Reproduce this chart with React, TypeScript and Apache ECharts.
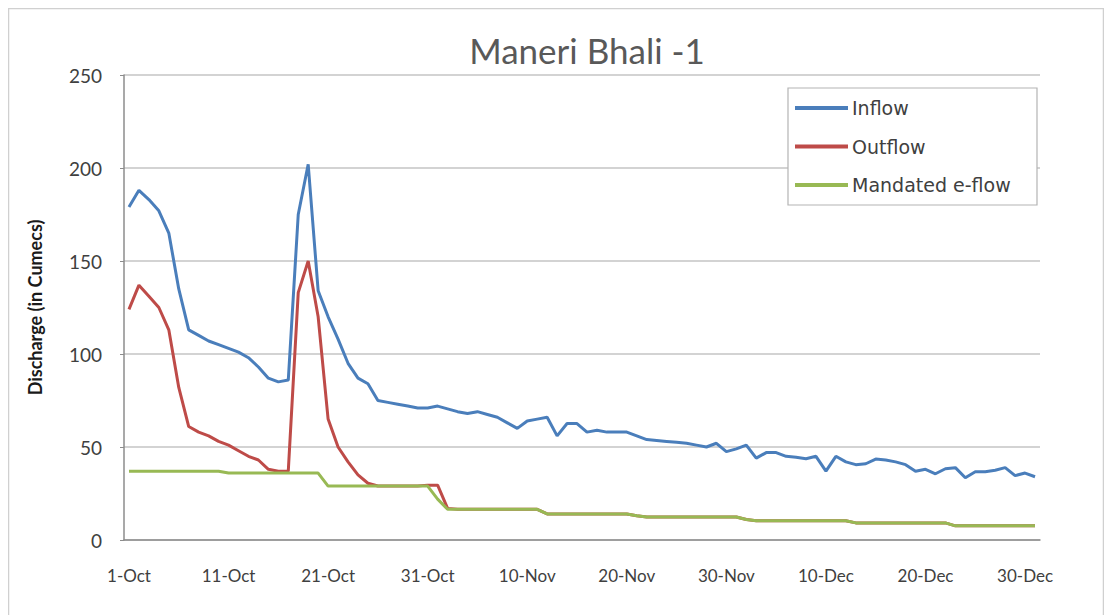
import React, { useEffect, useRef } from "react";
import * as echarts from "echarts";

const monthDays: [string, number][] = [["Oct", 31], ["Nov", 30], ["Dec", 31]];
const categories: string[] = [];
for (const [m, n] of monthDays) for (let d = 1; d <= n; d++) categories.push(`${d}-${m}`);

const inflow = [
  179, 188, 183, 177, 165, 135, 113, 110, 107, 105,
  103, 101, 98, 93, 87, 85, 86, 175, 202, 134,
  120, 108, 95, 87, 84, 75, 74, 73, 72, 71,
  71, 72, 70.5, 69, 68, 69, 67.5, 66, 63, 60,
  64, 65, 66, 56, 62.6, 62.6, 58, 59, 58, 58,
  58, 56, 54, 53.5, 53, 52.5, 52, 51, 50, 52,
  47.5, 49, 51, 44, 47, 47, 45, 44.5, 43.7, 45,
  37, 45, 42, 40.5, 41, 43.5, 43, 42, 40.5, 37,
  38, 35.6, 38.3, 38.9, 33.5, 36.7, 36.7, 37.5, 38.9, 34.6,
  36, 34,
];

const outflow = [
  124, 137, 131, 125, 113, 82, 61, 58, 56, 53,
  51, 48, 45, 43, 38, 37, 37, 133, 150, 120,
  65, 50, 42, 35, 30.5, 29, 29, 29, 29, 29,
  29.5, 29.5, 17, 16.5, 16.5, 16.5, 16.5, 16.5, 16.5, 16.5,
  16.5, 16.5, 14, 14, 14, 14, 14, 14, 14, 14,
  14, 13, 12.4, 12.4, 12.4, 12.4, 12.4, 12.4, 12.4, 12.4,
  12.4, 12.4, 11, 10.3, 10.3, 10.3, 10.3, 10.3, 10.3, 10.3,
  10.3, 10.3, 10.3, 9.2, 9.2, 9.2, 9.2, 9.2, 9.2, 9.2,
  9.2, 9.2, 9.2, 7.6, 7.6, 7.6, 7.6, 7.6, 7.6, 7.6,
  7.6, 7.6,
];

const eflow = [
  37, 37, 37, 37, 37, 37, 37, 37, 37, 37,
  36, 36, 36, 36, 36, 36, 36, 36, 36, 36,
  29, 29, 29, 29, 29, 29, 29, 29, 29, 29,
  29, 22, 16.5, 16.5, 16.5, 16.5, 16.5, 16.5, 16.5, 16.5,
  16.5, 16.5, 14, 14, 14, 14, 14, 14, 14, 14,
  14, 13, 12.4, 12.4, 12.4, 12.4, 12.4, 12.4, 12.4, 12.4,
  12.4, 12.4, 11, 10.3, 10.3, 10.3, 10.3, 10.3, 10.3, 10.3,
  10.3, 10.3, 10.3, 9.2, 9.2, 9.2, 9.2, 9.2, 9.2, 9.2,
  9.2, 9.2, 9.2, 7.6, 7.6, 7.6, 7.6, 7.6, 7.6, 7.6,
  7.6, 7.6,
];

const seriesNames = ["Inflow", "Outflow", "Mandated e-flow"];
const seriesColors = ["#4a7ebb", "#be4b48", "#98b954"];
const yTicks = { min: 0, max: 250, interval: 50 };

const LABEL_FONT = "Lato, 'Liberation Sans', sans-serif";

export default function App() {
  const ref = useRef<HTMLDivElement>(null);
  useEffect(() => {
    if (!ref.current) return;
    const chart = echarts.init(ref.current, undefined, { renderer: "svg" });
    const dataSets = [inflow, outflow, eflow];
    chart.setOption({
      animation: false,
      backgroundColor: "#ffffff",
      grid: { left: 116, top: 67, width: 916, height: 465 },
      graphic: [
        {
          type: "rect",
          shape: { x: 0.5, y: 0.5, width: 1095, height: 700 },
          style: { fill: "none", stroke: "#d0d0d0", lineWidth: 1.5 },
          silent: true,
        },
        {
          type: "text",
          x: 579,
          y: 42,
          style: {
            text: "Maneri Bhali -1",
            align: "center",
            verticalAlign: "middle",
            fontFamily: LABEL_FONT,
            fontSize: 35,
            fill: "#595959",
          },
        },
        {
          type: "rect",
          shape: { x: 780, y: 80, width: 249, height: 117 },
          style: { fill: "#ffffff", stroke: "#b4b4b4", lineWidth: 1.2 },
          z: 10,
        },
      ],
      legend: {
        orient: "vertical",
        left: 787,
        top: 90,
        padding: 0,
        itemWidth: 53,
        itemHeight: 4,
        itemGap: 18.5,
        icon: "rect",
        z: 20,
        data: seriesNames,
        textStyle: {
          fontFamily: "'DejaVu Sans', sans-serif",
          fontSize: 19,
          lineHeight: 20,
          color: "#404040",
          padding: [0, 0, 0, -1],
        },
      },
      xAxis: {
        type: "category",
        data: categories,
        boundaryGap: true,
        axisLine: { lineStyle: { color: "#8c8c8c", width: 1.5 } },
        axisTick: { show: false },
        axisLabel: {
          interval: 9,
          margin: 27,
          fontFamily: LABEL_FONT,
          fontSize: 17,
          color: "#404040",
        },
        splitLine: { show: false },
      },
      yAxis: {
        type: "value",
        min: yTicks.min,
        max: yTicks.max,
        interval: yTicks.interval,
        name: "Discharge (in Cumecs)",
        nameLocation: "middle",
        nameRotate: 90,
        nameGap: 80,
        nameTextStyle: {
          fontFamily: LABEL_FONT,
          fontSize: 18,
          fontWeight: "bold",
          color: "#1a1a1a",
        },
        axisLine: { show: true, lineStyle: { color: "#8c8c8c", width: 1.5 } },
        axisTick: { show: true, length: 4, lineStyle: { color: "#8c8c8c" } },
        axisLabel: {
          margin: 22,
          fontFamily: LABEL_FONT,
          fontSize: 19,
          color: "#404040",
        },
        splitLine: { lineStyle: { color: "#c4c4c4", width: 1.5 } },
      },
      series: seriesNames.map((name, i) => ({
        name,
        type: "line",
        data: dataSets[i],
        symbol: "none",
        lineStyle: { width: 3, color: seriesColors[i] },
        itemStyle: { color: seriesColors[i] },
      })),
    });
    return () => chart.dispose();
  }, []);
  return <div ref={ref} style={{ width: 1104, height: 607 }} />;
}
